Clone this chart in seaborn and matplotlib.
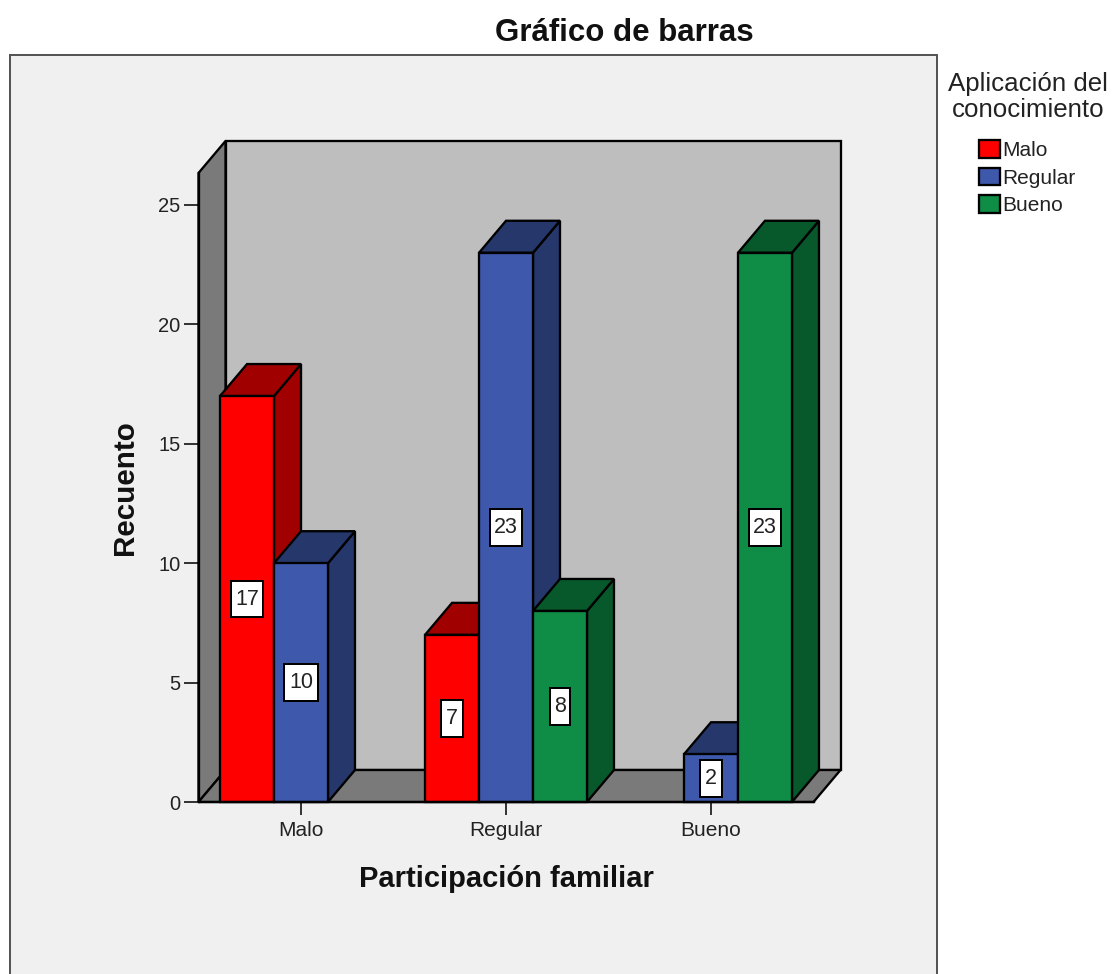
import matplotlib
matplotlib.use('Agg')
import matplotlib.pyplot as plt
from matplotlib.patches import Rectangle, Patch
from matplotlib.path import Path
import pandas as pd
import seaborn as sns

# Values
participacion = ['Malo', 'Regular', 'Bueno']
aplicacion = ['Malo', 'Regular', 'Bueno']
malo_counts = [17, 7, 0]
regular_counts = [10, 23, 2]
bueno_counts = [0, 8, 23]
y_ticks = [0, 5, 10, 15, 20, 25]

front_colors = ['#FF0000', '#3E58AC', '#0F8C46']
dark_colors = ['#A00000', '#25376B', '#07592B']

W, H = 1112, 974
PX = 0.72  # one pixel in points at dpi 100


def fx(px):
    return px / W


def fy(px):
    return 1 - px / H


def tall_box(x0, y0, width, height, mutation_size):
    # value boxes are taller than a plain square pad would give
    pad_x = 0.21 * mutation_size
    pad_y = 0.37 * mutation_size
    left, right = x0 - pad_x, x0 + width + pad_x
    low, high = y0 - pad_y, y0 + height + pad_y
    return Path([(left, low), (right, low), (right, high), (left, high), (left, low)], closed=True)


sns.set_style('white')
plt.rcParams['font.family'] = ['Liberation Sans', 'DejaVu Sans']

# Build the long table seaborn wants
df = pd.DataFrame({
    'Participacion': participacion * 3,
    'Aplicacion': [a for a in aplicacion for _ in participacion],
    'Recuento': malo_counts + regular_counts + bueno_counts,
})

fig = plt.figure(figsize=(W / 100, H / 100), dpi=100, facecolor='white')

# Chart panel, runs off the bottom of the image
fig.add_artist(Rectangle((fx(10), fy(1000)), fx(927), fy(55) - fy(1000),
                         transform=fig.transFigure, facecolor='#F0F0F0',
                         edgecolor='#555555', linewidth=2 * PX, zorder=-1))

ax = fig.add_axes([fx(198.5), fy(802), fx(615), fy(173) - fy(802)])
ax.patch.set_alpha(0)

sns.barplot(data=df, x='Participacion', y='Recuento', hue='Aplicacion',
            order=participacion, hue_order=aplicacion, palette=front_colors,
            width=0.79, gap=0, saturation=1, ax=ax, legend=False, errorbar=None)

ax.set_xlim(-0.5, 2.5)
ax.set_ylim(0, 26.34)

# Depth of the fake 3D, 27 px across and 32 px up
scale_x = 615 / 3
scale_y = 629 / 26.34
dx = 27 / scale_x
dy = 32 / scale_y
x0, x1 = ax.get_xlim()
top = ax.get_ylim()[1]
line = dict(edgecolor='black', linewidth=2.3 * PX, clip_on=False)

# Walls and floor
ax.fill([x0 + dx, x1 + dx, x1 + dx, x0 + dx], [dy, dy, top + dy, top + dy],
        facecolor='#BEBEBE', zorder=1, **line)
ax.fill([x0, x0 + dx, x0 + dx, x0], [0, dy, top + dy, top],
        facecolor='#7A7A7A', zorder=1, **line)
ax.fill([x0, x1, x1 + dx, x0 + dx], [0, 0, dy, dy],
        facecolor='#7A7A7A', zorder=1, **line)

# Sides and tops of the bars, painted left to right
bars = []
for color_idx, container in enumerate(ax.containers):
    for bar in container:
        bars.append((bar, color_idx))
bars.sort(key=lambda item: item[0].get_x())

z = 2
for bar, color_idx in bars:
    h = bar.get_height()
    if h == 0:
        continue
    left = bar.get_x()
    right = left + bar.get_width()
    dark = dark_colors[color_idx]
    ax.fill([right, right + dx, right + dx, right], [0, dy, h + dy, h],
            facecolor=dark, zorder=z, **line)
    ax.fill([left, right, right + dx, left + dx], [h, h, h + dy, h + dy],
            facecolor=dark, zorder=z, **line)
    bar.set_edgecolor('black')
    bar.set_linewidth(2.3 * PX)
    bar.set_clip_on(False)
    bar.set_zorder(z + 1)
    z += 2

# Value labels in white boxes
for container in ax.containers:
    labels = ['' if b.get_height() == 0 else str(int(b.get_height())) for b in container]
    texts = ax.bar_label(container, labels=labels, label_type='center', fontsize=15.5,
                         color='#222222', zorder=100,
                         bbox=dict(boxstyle=tall_box, facecolor='white',
                                   edgecolor='black', linewidth=2 * PX))
    for t in texts:
        t.set_zorder(100)

# Axes furniture
sns.despine(ax=ax, top=True, right=True)
for side in ['left', 'bottom']:
    ax.spines[side].set_linewidth(2.3 * PX)
    ax.spines[side].set_color('black')
    ax.spines[side].set_zorder(50)
ax.set_yticks(y_ticks)
ax.tick_params(axis='y', length=15 * PX, width=1.8 * PX, labelsize=14.5, pad=2,
               labelcolor='#222222', left=True, color='#222222')
ax.tick_params(axis='x', length=13 * PX, width=1.8 * PX, labelsize=15, pad=4,
               labelcolor='#222222', bottom=True, color='#222222')
ax.set_xlabel('Participación familiar', fontsize=21, fontweight='bold', labelpad=18,
              color='#111111')
ax.set_ylabel('Recuento', fontsize=21.3, fontweight='bold', labelpad=14, color='#111111')

fig.text(fx(624), fy(33), 'Gráfico de barras', fontsize=22.5, fontweight='bold',
         ha='center', va='center', color='#111111')
fig.text(fx(1028), fy(97), 'Aplicación del\nconocimiento', fontsize=18.6,
         ha='center', va='center', color='#222222', linespacing=1.08)

handles = [Patch(facecolor=c, edgecolor='black', linewidth=2.3 * PX) for c in front_colors]
fig.legend(handles, aplicacion, loc='upper left', bbox_to_anchor=(fx(960), fy(121.5)),
           frameon=False, fontsize=15, handlelength=1.0, handleheight=0.9,
           handletextpad=0.15, labelspacing=0.37, labelcolor='#222222')

plt.savefig('out.png', dpi=100)
